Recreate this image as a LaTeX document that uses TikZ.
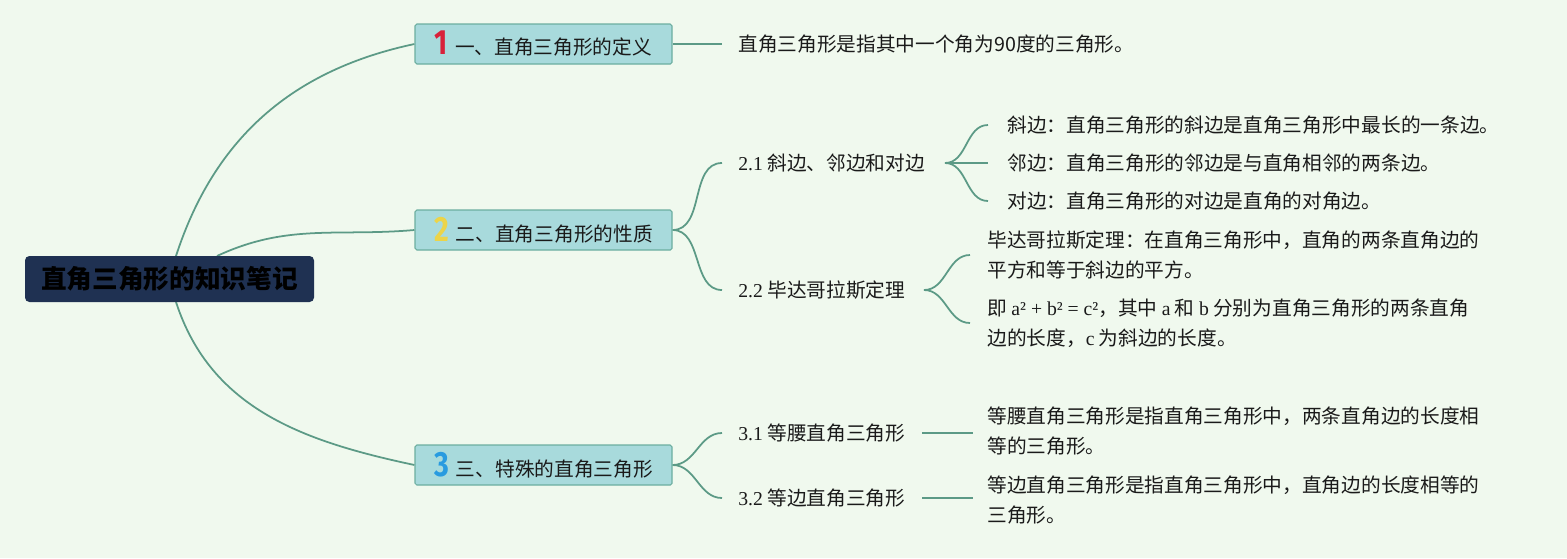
\documentclass[tikz,border=0pt]{standalone}
\usepackage{fontspec}
\setmainfont{Noto Sans CJK SC}
\newfontfamily\lat{Liberation Serif}
\newfontfamily\numfont{Fira Sans}
\pgfdeclarelayer{edgelayer}
\pgfdeclarelayer{nodelayer}
\pgfsetlayers{edgelayer,nodelayer,main}
\definecolor{bgcol}{RGB}{240,249,238}
\definecolor{boxfill}{RGB}{168,218,220}
\definecolor{boxline}{RGB}{108,174,160}
\definecolor{linecol}{RGB}{92,154,134}
\definecolor{rootfill}{RGB}{31,49,82}
\definecolor{txt}{RGB}{26,26,26}
\definecolor{numred}{RGB}{216,33,58}
\definecolor{numyellow}{RGB}{236,212,72}
\definecolor{numblue}{RGB}{40,155,224}
\tikzset{font=\fontsize{11.2}{17}\selectfont}
\tikzstyle{none}=[inner sep=0pt]
\tikzstyle{root}=[rectangle,rounded corners=2.5pt,fill=rootfill,text=black,minimum width=5.78cm,minimum height=0.92cm,font=\fontsize{14.6}{16}\selectfont\bfseries]
\tikzstyle{topic}=[rectangle,rounded corners=1pt,fill=boxfill,draw=boxline,line width=0.6pt,minimum width=5.14cm,minimum height=0.8cm,inner sep=0pt,text=txt]
\tikzstyle{sub}=[anchor=west,inner sep=0pt,text=txt]
\tikzstyle{leaf}=[anchor=west,inner sep=0pt,align=left,text=txt]
\tikzstyle{edge}=[draw=linecol,line width=1pt]
\newcommand{\numtag}[2]{{\numfont\bfseries\fontsize{19}{19}\selectfont\color{#1}\scalebox{0.85}[1.05]{#2}}\hspace{4pt}}

\begin{document}
\begin{tikzpicture}[x=0.8cm,y=0.8cm]
	\useasboundingbox (0,0) rectangle (39.175,-13.95);
	\begin{pgfonlayer}{nodelayer}
		\node [style=root] (0) at (4.2375, -6.975) {直角三角形的知识笔记};
		\node [style=topic] (1) at (13.5875, -1.1) {\numtag{numred}{1}一、直角三角形的定义};
		\node [style=topic] (2) at (13.5875, -5.75) {\numtag{numyellow}{2}二、直角三角形的性质};
		\node [style=topic] (3) at (13.5875, -11.625) {\numtag{numblue}{3}三、特殊的直角三角形};
		\node [style=leaf] (4) at (18.45, -1.1) {直角三角形是指其中一个角为90度的三角形。};
		\node [style=sub] (5) at (18.45, -4.075) {{\lat 2.1} 斜边、邻边和对边};
		\node [style=sub] (6) at (18.45, -7.25) {{\lat 2.2} 毕达哥拉斯定理};
		\node [style=sub] (7) at (18.45, -10.825) {{\lat 3.1} 等腰直角三角形};
		\node [style=sub] (8) at (18.45, -12.45) {{\lat 3.2} 等边直角三角形};
		\node [style=leaf] (9) at (25.175, -3.125) {斜边：直角三角形的斜边是直角三角形中最长的一条边。};
		\node [style=leaf] (10) at (25.175, -4.075) {邻边：直角三角形的邻边是与直角相邻的两条边。};
		\node [style=leaf] (11) at (25.175, -5.025) {对边：直角三角形的对边是直角的对角边。};
		\node [style=leaf] (12) at (24.675, -6.375) {毕达哥拉斯定理：在直角三角形中，直角的两条直角边的\\平方和等于斜边的平方。};
		\node [style=leaf] (13) at (24.675, -8.0875) {即 {\lat a² + b² = c²}，其中 {\lat a} 和 {\lat b} 分别为直角三角形的两条直角\\边的长度，{\lat c} 为斜边的长度。};
		\node [style=leaf] (14) at (24.675, -10.775) {等腰直角三角形是指直角三角形中，两条直角边的长度相\\等的三角形。};
		\node [style=leaf] (15) at (24.675, -12.5) {等边直角三角形是指直角三角形中，直角边的长度相等的\\三角形。};
		\node [style=none] (20) at (4.4, -6.4) {};
		\node [style=none] (21) at (5.425, -6.4) {};
		\node [style=none] (22) at (4.4, -7.55) {};
		\node [style=none] (23) at (18.05, -1.1) {};
		\node [style=none] (24) at (18.05, -4.075) {};
		\node [style=none] (25) at (18.05, -7.25) {};
		\node [style=none] (26) at (18.05, -10.825) {};
		\node [style=none] (27) at (18.05, -12.45) {};
		\node [style=none] (28) at (23.625, -4.075) {};
		\node [style=none] (29) at (24.7, -3.125) {};
		\node [style=none] (30) at (24.7, -4.075) {};
		\node [style=none] (31) at (24.7, -5.025) {};
		\node [style=none] (32) at (23.1, -7.25) {};
		\node [style=none] (33) at (24.25, -6.375) {};
		\node [style=none] (34) at (24.25, -8.075) {};
		\node [style=none] (35) at (23.05, -10.825) {};
		\node [style=none] (36) at (24.325, -10.825) {};
		\node [style=none] (37) at (23.05, -12.45) {};
		\node [style=none] (38) at (24.325, -12.45) {};
	\end{pgfonlayer}
	\begin{pgfonlayer}{edgelayer}
		\fill [bgcol] (0,0) rectangle (39.175,-13.95);
		\draw [style=edge] (20.center) to[out=72, in=192] (1.west);
		\draw [style=edge] (21.center) to[out=25, in=185] (2.west);
		\draw [style=edge] (22.center) to[out=-72, in=168] (3.west);
		\draw [style=edge] (1.east) to (23.center);
		\draw [style=edge] (2.east) to[out=0, in=180] (24.center);
		\draw [style=edge] (2.east) to[out=0, in=180] (25.center);
		\draw [style=edge] (3.east) to[out=0, in=180] (26.center);
		\draw [style=edge] (3.east) to[out=0, in=180] (27.center);
		\draw [style=edge] (28.center) to[out=0, in=180] (29.center);
		\draw [style=edge] (28.center) to (30.center);
		\draw [style=edge] (28.center) to[out=0, in=180] (31.center);
		\draw [style=edge] (32.center) to[out=0, in=180] (33.center);
		\draw [style=edge] (32.center) to[out=0, in=180] (34.center);
		\draw [style=edge] (35.center) to (36.center);
		\draw [style=edge] (37.center) to (38.center);
	\end{pgfonlayer}
\end{tikzpicture}
\end{document}
